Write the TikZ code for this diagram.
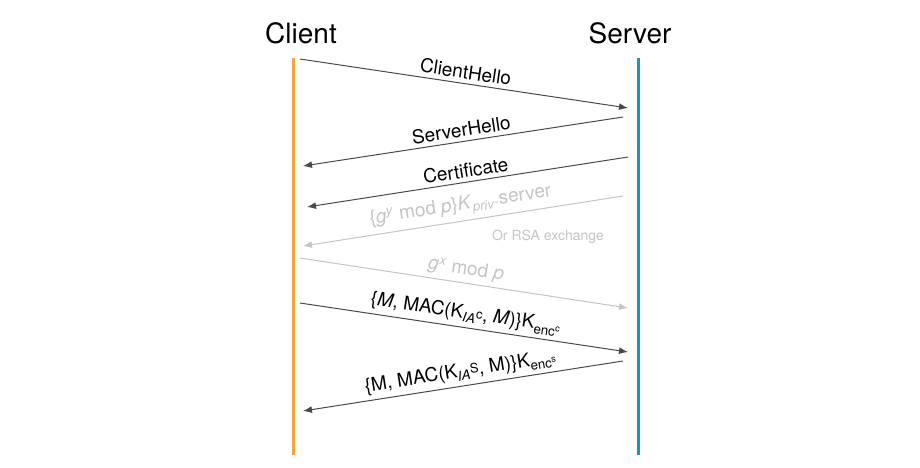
\documentclass[tikz,border=0pt]{standalone}
\usepackage{fontspec}
\setmainfont{TeX Gyre Heros}
\usetikzlibrary{arrows.meta}

\definecolor{clientcol}{HTML}{F7A43C}
\definecolor{servercol}{HTML}{1898A8}
\definecolor{msgcol}{HTML}{4A4A4A}
\definecolor{fadecol}{HTML}{C4C4C4}

\newcommand{\macmsg}[3]{\{#1, MAC(K\textsubscript{\textit{IA}}\raisebox{0.2ex}{\fontsize{13}{13}\selectfont #2}, #1)\}K\textsubscript{enc\textsuperscript{#3}}}

\begin{document}
\begin{tikzpicture}[x=1pt,y=-1pt,
    msg/.style={draw=msgcol,line width=1pt,-{Latex[length=9pt,width=7pt]}},
    fade/.style={msg,draw=fadecol},
    lbl/.style={midway,sloped,above,inner sep=4pt,font=\fontsize{19}{22}\selectfont},
    life/.style={line width=3pt}]
  \useasboundingbox (0,0) rectangle (920,467);
  % lifelines
  \node[font=\fontsize{28}{32}\selectfont] (client) at (301,33) {Client};
  \node[font=\fontsize{28}{32}\selectfont] (server) at (630,33) {Server};
  \coordinate (ctop) at (293,58);
  \coordinate (cbot) at (293,455);
  \coordinate (stop) at (638,58);
  \coordinate (sbot) at (638,455);
  \draw[life,clientcol] (ctop) -- (cbot);
  \draw[life,servercol] (stop) -- (sbot);
  % message ends
  \coordinate (c1) at (300,59);  \coordinate (s1) at (628,108);
  \coordinate (s2) at (623,117); \coordinate (c2) at (303,166);
  \coordinate (s3) at (628,157); \coordinate (c3) at (307,207);
  \coordinate (s4) at (623,196); \coordinate (c4) at (303,246);
  \coordinate (c5) at (300,258); \coordinate (s5) at (628,308);
  \coordinate (c6) at (300,303); \coordinate (s6) at (628,352);
  \coordinate (s7) at (623,361); \coordinate (c7) at (303,411);
  % messages
  \draw[msg] (c1) -- node[lbl] (hello) {ClientHello} (s1);
  \draw[msg] (s2) -- node[lbl] (shello) {ServerHello} (c2);
  \draw[msg] (s3) -- node[lbl] (cert) {Certificate} (c3);
  \draw[fade] (s4) -- node[lbl,text=fadecol] (dh)
    {\{\textit{g}\textsuperscript{\textit{y}} mod \textit{p}\}\textit{K}\textsubscript{\textit{priv}\raisebox{0.3ex}{-}}server} (c4);
  \node[text=fadecol,font=\fontsize{14}{16}\selectfont] (rsa) at (548,237) {Or RSA exchange};
  \draw[fade] (c5) -- node[lbl,text=fadecol] (gx)
    {\textit{g}\textsuperscript{\textit{x}} mod \textit{p}} (s5);
  \draw[msg] (c6) -- node[lbl] (fin1) {\macmsg{\textit{M}}{c}{c}} (s6);
  \draw[msg] (s7) -- node[lbl] (fin2) {\macmsg{M}{S}{s}} (c7);
\end{tikzpicture}
\end{document}
